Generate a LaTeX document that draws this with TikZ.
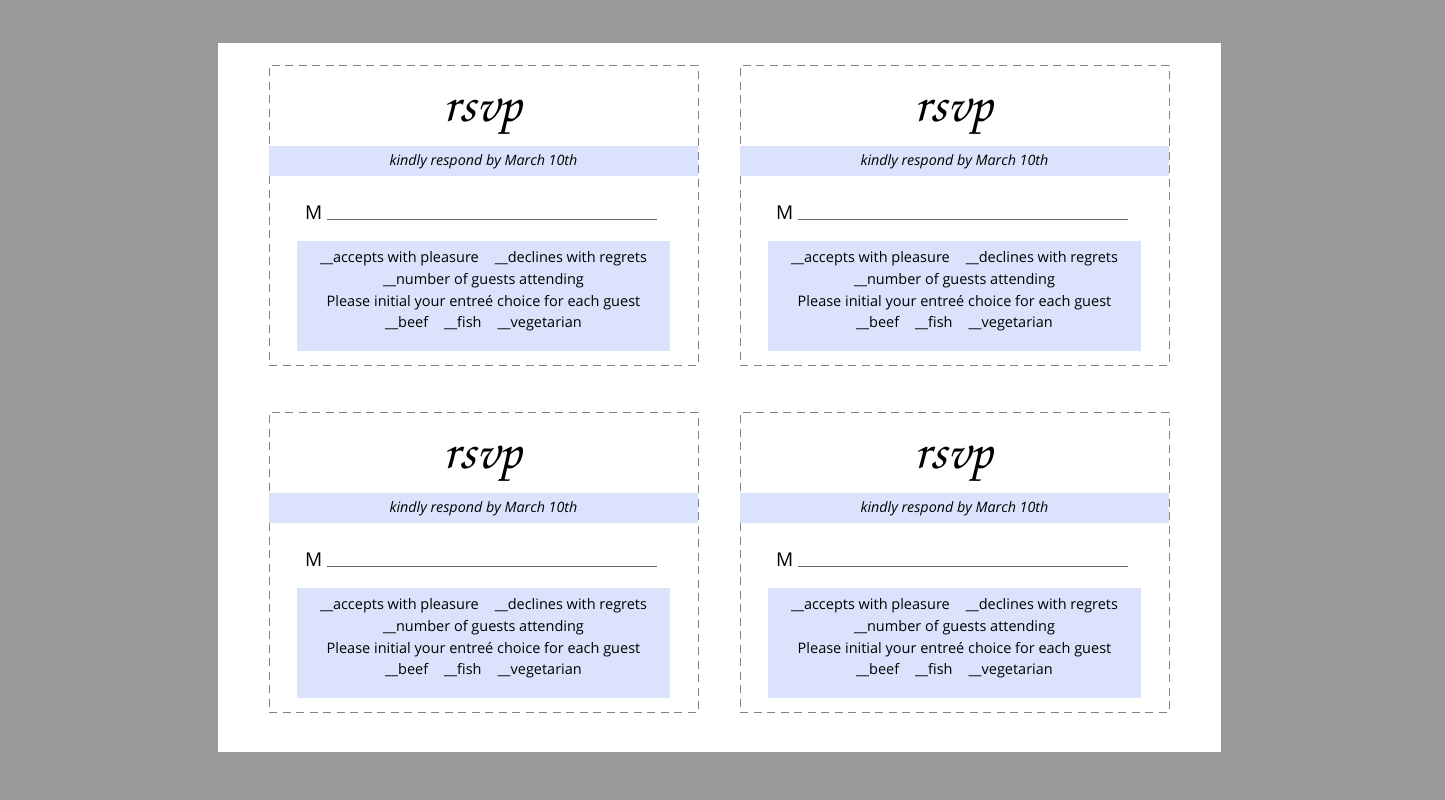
\documentclass[tikz,border=0pt]{standalone}
\usepackage[T1]{fontenc}
\usepackage{fontspec}
\setmainfont{Open Sans}
\usetikzlibrary{positioning}
\definecolor{pagegray}{RGB}{153,153,153}
\definecolor{cardblue}{RGB}{219,227,252}
\definecolor{cutgray}{RGB}{130,130,130}

\tikzset{
  cutline/.style={draw=cutgray, dash pattern=on 8pt off 5.5pt, line width=0.8pt},
  band/.style={fill=cardblue, draw=none, inner sep=0pt},
  reply/.style={font=\fontsize{14.5}{21.7}\selectfont, align=center, inner sep=0pt},
}
\newcommand{\blank}{\_\_}
\newcommand{\scriptface}{\usefont{T1}{pzc}{mb}{it}}

\begin{document}
\begin{tikzpicture}[x=1pt, y=-1pt]
  \node[fill=pagegray, minimum width=1445pt, minimum height=800pt, inner sep=0pt, anchor=north west] (backdrop) at (0,0) {};
  \node[fill=white, minimum width=1003pt, minimum height=709pt, inner sep=0pt, anchor=north west] (sheet) at (218,43) {};
  \foreach \cx/\cy/\i in {269/65/a, 740/65/b, 269/412/c, 740/412/d} {
    \begin{scope}[shift={(\cx,\cy)}]
      \node[cutline, minimum width=429pt, minimum height=300pt, inner sep=0pt, anchor=north west] (card\i) at (0,0) {};
      \node[font=\fontsize{52}{52}\selectfont\scriptface, inner sep=0pt] (title\i) at (214,52) {rsvp};
      \node[band, minimum width=429pt, minimum height=30pt, anchor=north west] (strip\i) at (0,81) {};
      \node[font=\fontsize{14.3}{16}\selectfont\itshape] (date\i) at ([yshift=-1pt]strip\i) {kindly respond by March 10th};
      \node[font=\fontsize{19}{21}\selectfont, anchor=base west, inner sep=0pt] (mr\i) at (36,155) {M};
      \coordinate (lineend\i) at (388,155);
      \draw[draw=black!60, line width=0.8pt] ([xshift=5pt]mr\i.base east) -- (lineend\i);
      \node[band, minimum width=373pt, minimum height=110pt, anchor=north west] (answers\i) at (28,176) {};
      \node[reply] (text\i) at ([yshift=4.5pt]answers\i) {\blank accepts with pleasure\hspace{16pt}\blank declines with regrets\\
        \blank number of guests attending\\
        Please initial your entreé choice for each guest\\
        \blank beef\hspace{16pt}\blank fish\hspace{16pt}\blank vegetarian};
    \end{scope}
  }
\end{tikzpicture}
\end{document}
